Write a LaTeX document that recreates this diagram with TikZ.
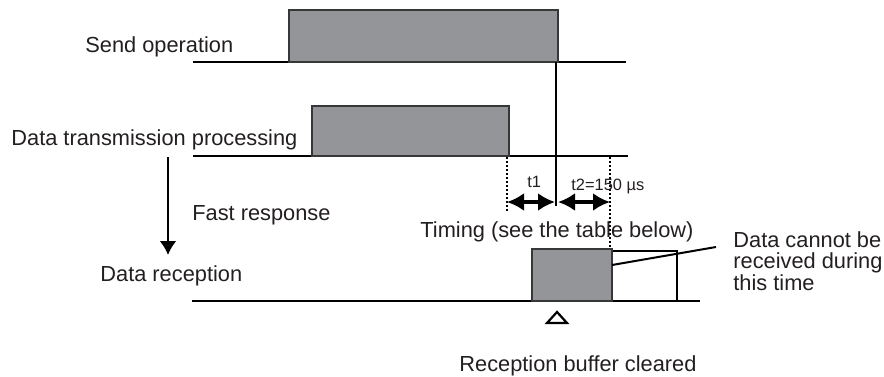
\documentclass[tikz,border=0pt]{standalone}
\usepackage{fontspec}
\setmainfont{Liberation Sans}
\usetikzlibrary{arrows.meta}
\definecolor{pulsegray}{RGB}{147,149,152}
\definecolor{edgegray}{RGB}{55,55,55}
\definecolor{inkc}{RGB}{35,31,32}
\begin{document}
\begin{tikzpicture}[x=0.5pt,y=-0.5pt,
  lbl/.style={font=\fontsize{10.9}{10.7}\selectfont, text=inkc, inner sep=0pt, anchor=base west},
  smalllbl/.style={font=\fontsize{8.2}{9}\selectfont, text=inkc, inner sep=0pt, anchor=base west},
  baseline line/.style={draw=black, line width=1.1pt},
  pulse/.style={fill=pulsegray, draw=edgegray, line width=0.6pt},
  openbox/.style={draw=black, line width=0.7pt},
  dotline/.style={draw=black, line width=0.8pt, dash pattern=on 0.8pt off 1.2pt},
  dimarrow/.style={draw=black, line width=1.6pt, {Latex[length=8.5pt,width=9pt]}-{Latex[length=8.5pt,width=9pt]}},
  downarrow/.style={draw=black, line width=1.2pt, -{Latex[length=7pt,width=8.5pt]}},
  marker/.style={draw=black, line width=1.1pt, line join=miter}
]
\useasboundingbox (0,0) rectangle (884,376);

% ---- coordinates ----
\coordinate (s0) at (193,62);
\coordinate (s1) at (626,62);
\coordinate (sp1) at (289,10);
\coordinate (sp2) at (558,62);
\coordinate (d0) at (193,156);
\coordinate (d1) at (628,156);
\coordinate (dp1) at (312,106);
\coordinate (dp2) at (509,156);
\coordinate (r0) at (192,301);
\coordinate (r1) at (700,301);
\coordinate (rp1) at (532,249);
\coordinate (rp2) at (612,301);
\coordinate (wb1) at (612,251);
\coordinate (wb2) at (677,301);
\coordinate (vtop) at (556,62);
\coordinate (vbot) at (556,206);
\coordinate (dl1) at (507,157);
\coordinate (dl2) at (507,212);
\coordinate (dr1) at (610,157);
\coordinate (dr2) at (610,249);
\coordinate (a1) at (507,202);
\coordinate (a2) at (555,202);
\coordinate (a3) at (558,202);
\coordinate (a4) at (610,202);
\coordinate (f1) at (168,157);
\coordinate (f2) at (168,255);
\coordinate (c1) at (612,265);
\coordinate (c2) at (716,247);
\coordinate (tri) at (557,312);

% ---- dotted guides ----
\draw[dotline] (dl1) -- (dl2);
\draw[dotline] (dr1) -- (dr2);

% ---- send operation ----
\draw[baseline line] (s0) -- (s1);
\draw[pulse] (sp1) rectangle (sp2);

% ---- data transmission processing ----
\draw[baseline line] (d0) -- (d1);
\draw[pulse] (dp1) rectangle (dp2);

% ---- data reception ----
\draw[baseline line] (r0) -- (r1);
\draw[openbox] (wb1) rectangle (wb2);
\draw[pulse] (rp1) rectangle (rp2);
\draw[openbox, line width=1pt] (c1) -- (c2);

% ---- timing lines ----
\draw[black, line width=0.9pt] (vtop) -- (vbot);
\draw[dimarrow] (a1) -- (a2);
\draw[dimarrow] (a3) -- (a4);
\draw[downarrow] (f1) -- (f2);

% ---- triangle marker ----
\draw[marker] (tri) -- ++(10,11) -- ++(-20,0) -- cycle;

% ---- labels ----
\node[lbl] (lsend) at (85,52) {Send operation};
\node[lbl] (ldata) at (11,145) {Data transmission processing};
\node[lbl] (lfast) at (192,220) {Fast response};
\node[lbl] (lrecv) at (100,281) {Data reception};
\node[lbl] (ltim) at (420,237) {Timing (see the table below)};
\node[lbl, anchor=north west, align=left] (lcan) at (733,231) {Data cannot be\\received during\\this time};
\node[lbl] (lbuf) at (459,371) {Reception buffer cleared};
\node[smalllbl] (lt1) at (527,187) {t1};
\node[smalllbl] (lt2) at (571,190) {t2=150 µs};
\end{tikzpicture}
\end{document}
